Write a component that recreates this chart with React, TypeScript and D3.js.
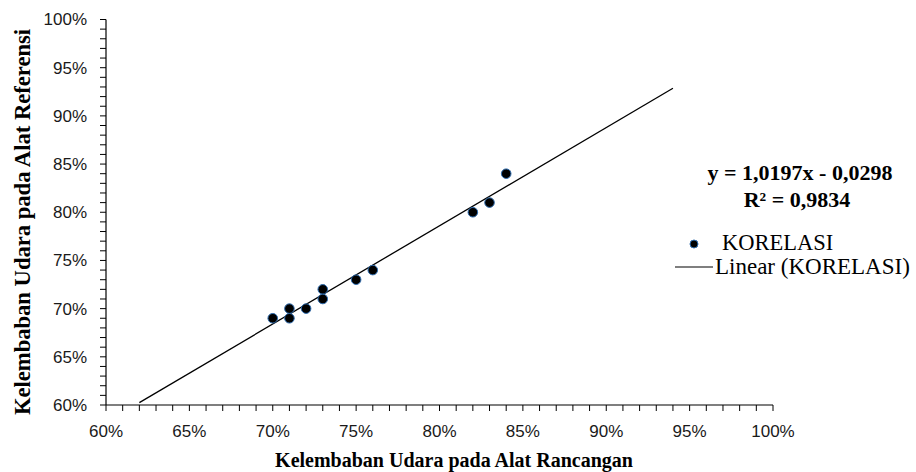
import React from "react";
import * as d3 from "d3";

// measured pairs (alat rancangan vs alat referensi)
const rancangan = [0.70, 0.71, 0.71, 0.72, 0.73, 0.73, 0.75, 0.76, 0.82, 0.83, 0.84];
const referensi = [0.69, 0.70, 0.69, 0.70, 0.72, 0.71, 0.73, 0.74, 0.80, 0.81, 0.84];

const slope = 1.0197;
const intercept = -0.0298;
const trendFrom = 0.62;
const trendTo = 0.94;

const majorTicks = [0.6, 0.65, 0.7, 0.75, 0.8, 0.85, 0.9, 0.95, 1.0];
const minorTicks = d3.range(60, 101).map((d) => d / 100);

const equationLabel = "y = 1,0197x - 0,0298";
const r2Label = "R² = 0,9834";
const seriesName = "KORELASI";
const trendName = "Linear (KORELASI)";
const xTitle = "Kelembaban Udara pada Alat Rancangan";
const yTitle = "Kelembaban Udara pada Alat Referensi";

const W = 916;
const H = 472;
const margin = { left: 106, right: 143, top: 19.5, bottom: 67 };

const tickFont = "'Liberation Sans', Arial, sans-serif";
const serif = "'Liberation Serif', 'Times New Roman', serif";

const pct = (d: number) => `${Math.round(d * 100)}%`;

export default function App() {
  const x = d3.scaleLinear().domain([0.6, 1]).range([margin.left, W - margin.right]);
  const y = d3.scaleLinear().domain([0.6, 1]).range([H - margin.bottom, margin.top]);

  const trend = d3
    .line<number>()
    .x((d) => x(d))
    .y((d) => y(slope * d + intercept));

  const x0 = x(0.6);
  const y0 = y(0.6);

  return (
    <svg
      width={W}
      height={H}
      style={{ position: "absolute", left: 0, top: 0, background: "#fff" }}
    >
      {/* x axis */}
      <line x1={x0} x2={x(1)} y1={y0} y2={y0} stroke="#000" strokeWidth={1.2} />
      {minorTicks.map((t, i) => (
        <line key={"xt" + i} x1={x(t)} x2={x(t)} y1={y0} y2={y0 + 6} stroke="#000" strokeWidth={1} />
      ))}
      {majorTicks.map((t, i) => (
        <text
          key={"xl" + i}
          x={x(t)}
          y={y0 + 32}
          textAnchor="middle"
          fontFamily={tickFont}
          fontSize={17}
          fill="#1a1a1a"
        >
          {pct(t)}
        </text>
      ))}

      {/* y axis */}
      <line x1={x0} x2={x0} y1={y(1)} y2={y0} stroke="#000" strokeWidth={1.2} />
      {minorTicks.map((t, i) => (
        <line key={"yt" + i} x1={x0 - 6} x2={x0} y1={y(t)} y2={y(t)} stroke="#000" strokeWidth={1} />
      ))}
      {majorTicks.map((t, i) => (
        <text
          key={"yl" + i}
          x={x0 - 19}
          y={y(t)}
          dy="0.35em"
          textAnchor="end"
          fontFamily={tickFont}
          fontSize={17}
          fill="#1a1a1a"
        >
          {pct(t)}
        </text>
      ))}

      {/* trendline */}
      <path d={trend([trendFrom, trendTo]) || ""} fill="none" stroke="#000" strokeWidth={1.3} />

      {/* points */}
      {rancangan.map((v, i) => (
        <circle
          key={"p" + i}
          cx={x(v)}
          cy={y(referensi[i])}
          r={4.8}
          fill="#000"
          stroke="#2f6db0"
          strokeWidth={1}
        />
      ))}

      {/* axis titles */}
      <text
        x={454}
        y={467}
        textAnchor="middle"
        fontFamily={serif}
        fontWeight="bold"
        fontSize={20}
        fill="#000"
      >
        {xTitle}
      </text>
      <text
        transform={`translate(30,222) rotate(-90)`}
        textAnchor="middle"
        fontFamily={serif}
        fontWeight="bold"
        fontSize={22.6}
        fill="#000"
      >
        {yTitle}
      </text>

      {/* equation */}
      <text x={800} y={180} textAnchor="middle" fontFamily={serif} fontWeight="bold" fontSize={22}>
        {equationLabel}
      </text>
      <text x={797} y={206.5} textAnchor="middle" fontFamily={serif} fontWeight="bold" fontSize={22}>
        {r2Label}
      </text>

      {/* legend */}
      <circle cx={694} cy={244} r={4} fill="#000" stroke="#2f6db0" strokeWidth={1} />
      <text x={722} y={250} fontFamily={serif} fontSize={22.5}>
        {seriesName}
      </text>
      <line x1={675} x2={713} y1={267} y2={267} stroke="#000" strokeWidth={1.2} />
      <text x={715} y={274} fontFamily={serif} fontSize={23}>
        {trendName}
      </text>
    </svg>
  );
}
